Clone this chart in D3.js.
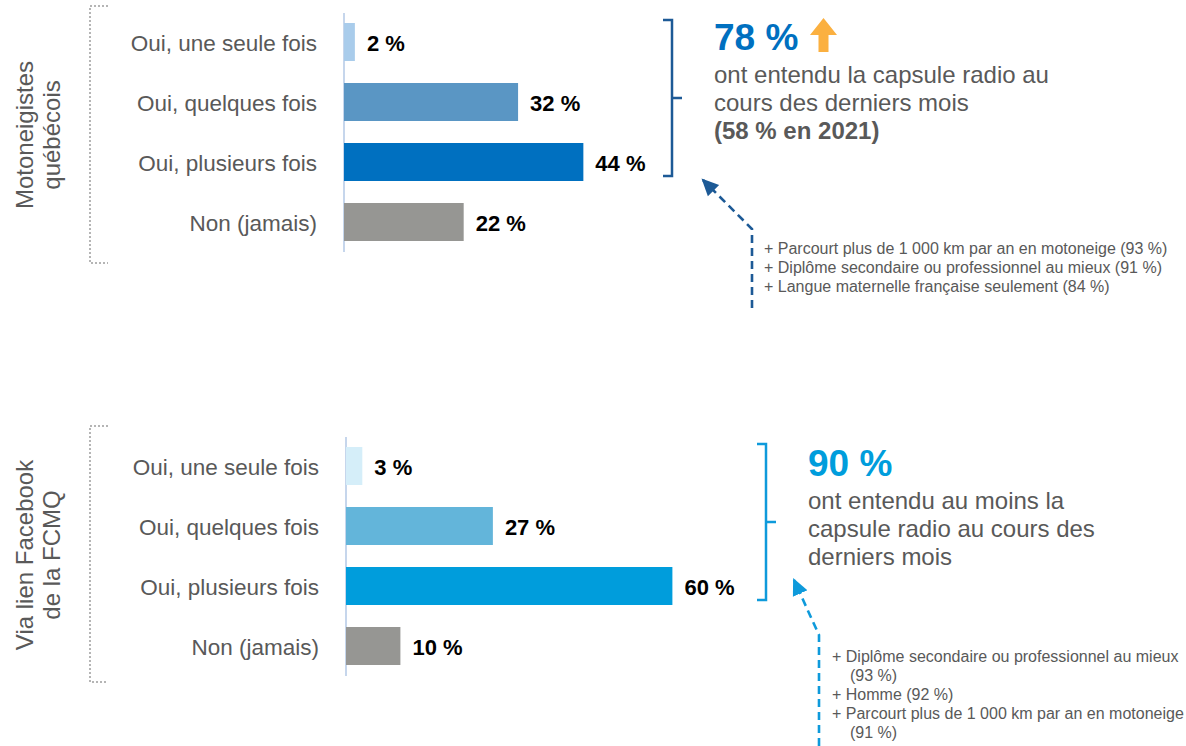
<!DOCTYPE html>
<html>
<head>
<meta charset="utf-8">
<title>Capsule radio</title>
<script src="https://d3js.org/d3.v7.min.js"></script>
<style>
  body { margin: 0; background: #fff; }
  svg { font-family: "Liberation Sans", Arial, sans-serif; }
</style>
</head>
<body>
<svg width="1186" height="746"></svg>
<script>
// données
var categories = ["Oui, une seule fois", "Oui, quelques fois", "Oui, plusieurs fois", "Non (jamais)"];
var motoValues = [2, 32, 44, 22];
var fbValues = [3, 27, 60, 10];

var motoGroup = ["Motoneigistes", "québécois"];
var fbGroup = ["Via lien Facebook", "de la FCMQ"];

var motoTotal = "78 %";
var motoText = ["ont entendu la capsule radio au", "cours des derniers mois"];
var motoPrev = "(58 % en 2021)";
var fbTotal = "90 %";
var fbText = ["ont entendu au moins la", "capsule radio au cours des", "derniers mois"];

var motoNotes = ["+ Parcourt plus de 1 000 km par an en motoneige (93 %)",
                 "+ Diplôme secondaire ou professionnel au mieux (91 %)",
                 "+ Langue maternelle française seulement (84 %)"];
var fbNotes = ["+ Diplôme secondaire ou professionnel au mieux",
               "(93 %)",
               "+ Homme (92 %)",
               "+ Parcourt plus de 1 000 km par an en motoneige",
               "(91 %)"];

var grey = "#595959";
var svg = d3.select("svg");
var x = d3.scaleLinear().domain([0, 100]).range([0, 544]);

var defs = svg.append("defs");
function arrowMarker(id, col) {
  defs.append("marker")
      .attr("id", id)
      .attr("viewBox", "0 -8 16 16")
      .attr("refX", 14)
      .attr("refY", 0)
      .attr("markerUnits", "userSpaceOnUse")
      .attr("markerWidth", 17)
      .attr("markerHeight", 17)
      .attr("orient", "auto")
    .append("path")
      .attr("d", "M0,-7.5 L16,0 L0,7.5 Z")
      .attr("fill", col);
}
arrowMarker("headMoto", "#1D5A96");
arrowMarker("headFb", "#0E9ADB");

function drawPanel(cfg) {
  var g = svg.append("g");
  var y = d3.scaleBand()
      .domain(categories)
      .range(cfg.band)
      .paddingInner(0.3667)
      .paddingOuter(0.1833);

  // crochet pointillé gauche
  g.append("path")
      .attr("d", "M108," + cfg.dot[0] + "H90V" + cfg.dot[1] + "H108")
      .attr("fill", "none")
      .attr("stroke", "#b5b5b5")
      .attr("stroke-width", 2)
      .attr("stroke-dasharray", "2,2");

  // titre du groupe (vertical)
  var gt = g.append("text")
      .attr("transform", "translate(33," + cfg.groupY + ") rotate(-90)")
      .attr("text-anchor", "middle")
      .attr("fill", grey)
      .attr("font-size", "24px");
  gt.selectAll("tspan")
    .data(cfg.group)
    .enter().append("tspan")
      .attr("x", 0)
      .attr("y", function(d, i) { return i * 27; })
      .text(function(d) { return d; });

  // axe
  g.append("line")
      .attr("x1", cfg.axisX).attr("x2", cfg.axisX)
      .attr("y1", cfg.band[0] + 1).attr("y2", cfg.band[1])
      .attr("stroke", "#c6d6ec")
      .attr("stroke-width", 2);

  g.selectAll("rect.bar")
    .data(cfg.values)
    .enter().append("rect")
      .attr("class", "bar")
      .attr("x", cfg.axisX)
      .attr("y", function(d, i) { return y(categories[i]); })
      .attr("width", function(d) { return x(d); })
      .attr("height", y.bandwidth())
      .attr("fill", function(d, i) { return cfg.colors[i]; });

  g.selectAll("text.cat")
    .data(categories)
    .enter().append("text")
      .attr("class", "cat")
      .attr("x", cfg.axisX - 27)
      .attr("y", function(d) { return y(d) + y.bandwidth() / 2; })
      .attr("dy", "0.4em")
      .attr("text-anchor", "end")
      .attr("fill", grey)
      .attr("font-size", "22.5px")
      .text(function(d) { return d; });

  g.selectAll("text.val")
    .data(cfg.values)
    .enter().append("text")
      .attr("class", "val")
      .attr("x", function(d) { return cfg.axisX + x(d) + 12; })
      .attr("y", function(d, i) { return y(categories[i]) + y.bandwidth() / 2; })
      .attr("dy", "0.42em")
      .attr("font-size", "22px")
      .attr("font-weight", "bold")
      .attr("fill", "#000")
      .text(function(d) { return d + " %"; });

  // accolade droite sur les « Oui »
  var b0 = y(categories[0]) - 3, b1 = y(categories[2]) + y.bandwidth() - 5;
  var bx = cfg.braceX;
  g.append("path")
      .attr("d", "M" + (bx - 9) + "," + b0 + "H" + bx + "V" + b1 + "H" + (bx - 9) +
                 "M" + bx + "," + ((b0 + b1) / 2) + "H" + (bx + 10))
      .attr("fill", "none")
      .attr("stroke", cfg.accent)
      .attr("stroke-width", 2.5);

  // bloc texte
  g.append("text")
      .attr("x", cfg.textX).attr("y", cfg.textY)
      .attr("font-size", "37px")
      .attr("font-weight", "bold")
      .attr("fill", cfg.totalColor)
      .text(cfg.total);

  var lines = g.append("text")
      .attr("fill", grey)
      .attr("font-size", "24px");
  lines.selectAll("tspan")
    .data(cfg.text)
    .enter().append("tspan")
      .attr("x", cfg.textX)
      .attr("y", function(d, i) { return cfg.textY + 33 + i * 28; })
      .text(function(d) { return d; });
  if (cfg.prev) {
    g.append("text")
        .attr("x", cfg.textX)
        .attr("y", cfg.textY + 33 + cfg.text.length * 28)
        .attr("font-size", "24px")
        .attr("font-weight", "bold")
        .attr("fill", grey)
        .text(cfg.prev);
  }

  // flèche pointillée
  g.append("path")
      .attr("d", cfg.arrow)
      .attr("fill", "none")
      .attr("stroke", cfg.accent)
      .attr("stroke-width", 2.6)
      .attr("stroke-dasharray", "8,5")
      .attr("marker-end", "url(#" + cfg.marker + ")");

  g.selectAll("text.note")
    .data(cfg.notes)
    .enter().append("text")
      .attr("class", "note")
      .attr("x", function(d) { return d.charAt(0) == "(" ? cfg.noteX + 18 : cfg.noteX; })
      .attr("y", function(d, i) { return cfg.noteY + i * 19; })
      .attr("font-size", "16px")
      .attr("fill", grey)
      .text(function(d) { return d; });
  return g;
}

drawPanel({
  values: motoValues,
  colors: ["#a9cceb", "#5a96c4", "#0070c0", "#969693"],
  group: motoGroup, groupY: 135,
  dot: [6, 263],
  axisX: 344, band: [12, 252],
  braceX: 672, accent: "#1d5a96",
  total: motoTotal, totalColor: "#0070c0",
  text: motoText, prev: motoPrev,
  textX: 714, textY: 50,
  arrow: "M752,308V229L703,180", marker: "headMoto",
  notes: motoNotes, noteX: 764, noteY: 254
});

drawPanel({
  values: fbValues,
  colors: ["#d5eef9", "#63b5da", "#009ddc", "#969693"],
  group: fbGroup, groupY: 555,
  dot: [426, 682],
  axisX: 346, band: [436, 676],
  braceX: 766, accent: "#0e9adb",
  total: fbTotal, totalColor: "#009ddc",
  text: fbText, prev: null,
  textX: 808, textY: 476,
  arrow: "M819,746V635L794,580", marker: "headFb",
  notes: fbNotes, noteX: 832, noteY: 662
});

// flèche orange (hausse)
svg.append("path")
    .attr("d", "M823.5,18 L837,35 L828.5,35 L828.5,52 L818.5,52 L818.5,35 L810,35 Z")
    .attr("fill", "#fbb040");
</script>
</body>
</html>
